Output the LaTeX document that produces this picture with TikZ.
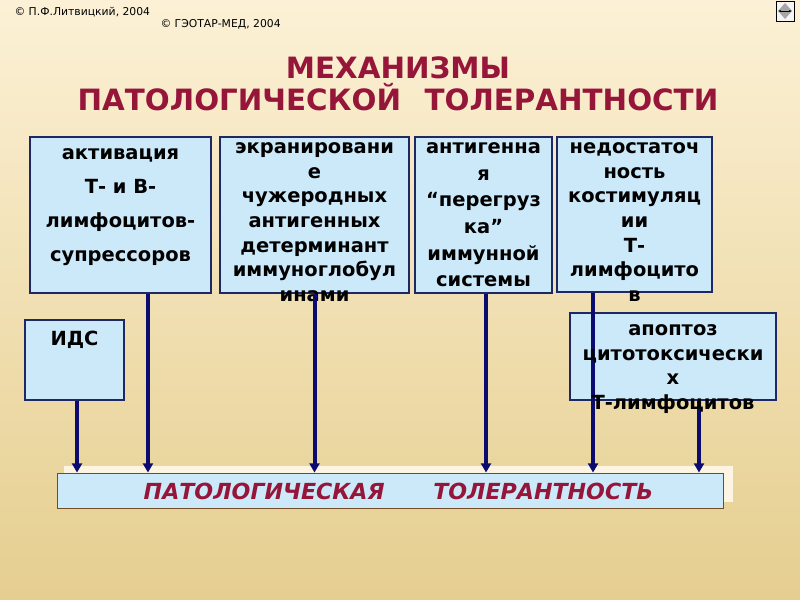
\documentclass[tikz,border=0pt]{standalone}
\usepackage{fontspec}
\setmainfont{DejaVu Sans}
\usetikzlibrary{arrows.meta,calc}

\definecolor{paperTop}{RGB}{252,241,214}
\definecolor{paperBot}{RGB}{229,206,143}
\definecolor{boxBlue}{RGB}{204,233,250}
\definecolor{boxLine}{RGB}{30,40,100}
\definecolor{arrowNavy}{RGB}{12,12,112}
\definecolor{titleRed}{RGB}{150,22,58}

\tikzset{every picture/.style={line width=0.75pt}}
\tikzset{
  box/.style={draw=boxLine, fill=boxBlue, line width=0.8pt, inner sep=0pt},
  boxtext/.style={align=center, inner sep=0pt, anchor=north, font=\bfseries\fontsize{14.6}{18.5}\selectfont},
  flow/.style={draw=arrowNavy, line width=3pt, -{Triangle[width=7.5pt,length=7pt]}},
}

\begin{document}
\begin{tikzpicture}[x=0.75pt,y=0.75pt,yscale=-1,xscale=1]
    \useasboundingbox (0,0) rectangle (800,600);

    %Background
    \shade [top color=paperTop, bottom color=paperBot] (0,0) rectangle (800,600);

    %Icon top right
    \draw [line width=0.5pt, fill=white!92!gray] (776,1) rectangle (794,21);
    \fill [gray!70] (785,3) -- (792,11) -- (785,19) -- (778,11) -- cycle;
    \draw [line width=0.6pt, -{Latex[length=2pt]}] (785,11) -- (792,11);
    \draw [line width=0.6pt, -{Latex[length=2pt]}] (785,11) -- (778,11);

    % Text Node
    \node [anchor=west, inner sep=0pt, font=\fontsize{8.1}{9}\selectfont] (copyA) at (14,12) {© П.Ф.Литвицкий, 2004};
    % Text Node
    \node [anchor=west, inner sep=0pt, font=\fontsize{8.1}{9}\selectfont] (copyB) at (160,24) {© ГЭОТАР-МЕД, 2004};

    % Title
    \node [align=center, inner sep=0pt, text=titleRed, font=\bfseries\fontsize{22}{24}\selectfont] (title) at (398,84) {МЕХАНИЗМЫ\\ПАТОЛОГИЧЕСКОЙ\hspace{0.8em}ТОЛЕРАНТНОСТИ};

    %Shape: Rectangle (upper row)
    \node [box, minimum width=135.75pt, minimum height=117pt] (akt) at (120.5,215) {};
    \node [box, minimum width=141.75pt, minimum height=117pt] (ekr) at (314.5,215) {};
    \node [box, minimum width=102.75pt, minimum height=117pt] (peregr) at (483.5,215) {};
    \node [box, minimum width=116.25pt, minimum height=116.25pt] (kostim) at (634.5,214.5) {};
    %Shape: Rectangle (lower row)
    \node [box, minimum width=74.25pt, minimum height=60pt] (ids) at (74.5,360) {};
    \node [box, minimum width=154.5pt, minimum height=65.25pt] (apop) at (673,356.5) {};

    %Shape: Rectangle (result bar)
    \fill [paperTop!70!white] (64,466) rectangle (733,502);
    \node [box, draw=brown!60!black, line width=0.6pt, minimum width=499.5pt, minimum height=26.25pt] (bar) at (390,490.5) {};

    % Text Node
    \node [boxtext, font=\bfseries\fontsize{14.6}{25.5}\selectfont] (aktTxt) at (120.5,148) {активация\\Т- и В-\\лимфоцитов-\\супрессоров};
    % Text Node
    \node [boxtext] (ekrTxt) at (314.5,142) {экранировани\\е\\чужеродных\\антигенных\\детерминант\\иммуноглобул\\инами};
    % Text Node
    \node [boxtext, font=\bfseries\fontsize{14.6}{20}\selectfont] (peregrTxt) at (483.5,142) {антигенна\\я\\“перегруз\\ка”\\иммунной\\системы};
    % Text Node
    \node [boxtext] (kostimTxt) at (634.5,142) {недостаточ\\ность\\костимуляц\\ии\\Т-\\лимфоцито\\в};
    % Text Node
    \node [boxtext] (idsTxt) at (74.5,331) {ИДС};

    %Straight Lines
    \draw [flow] ([xshift=1.9pt]ids.south) -- ([xshift=1.9pt]ids.south |- bar.north);
    \draw [flow] ([xshift=20.6pt]akt.south) -- ([xshift=20.6pt]akt.south |- bar.north);
    \draw [flow] (ekr.south) -- (ekr.south |- bar.north);
    \draw [flow] ([xshift=1.9pt]peregr.south) -- ([xshift=1.9pt]peregr.south |- bar.north);
    \draw [flow] ([xshift=-31.1pt]kostim.south) -- ([xshift=-31.1pt]kostim.south |- bar.north);
    \draw [flow] ([xshift=19.5pt]apop.south) -- ([xshift=19.5pt]apop.south |- bar.north);

    % Text Node
    \node [boxtext] (apopTxt) at (673,324) {апоптоз\\цитотоксически\\х\\Т-лимфоцитов};
    % Text Node
    \node [inner sep=0pt, text=titleRed, font=\bfseries\itshape\fontsize{16.6}{18}\selectfont] (barTxt) at (398.5,491) {ПАТОЛОГИЧЕСКАЯ\hspace{2.2em}ТОЛЕРАНТНОСТЬ};
\end{tikzpicture}
\end{document}
